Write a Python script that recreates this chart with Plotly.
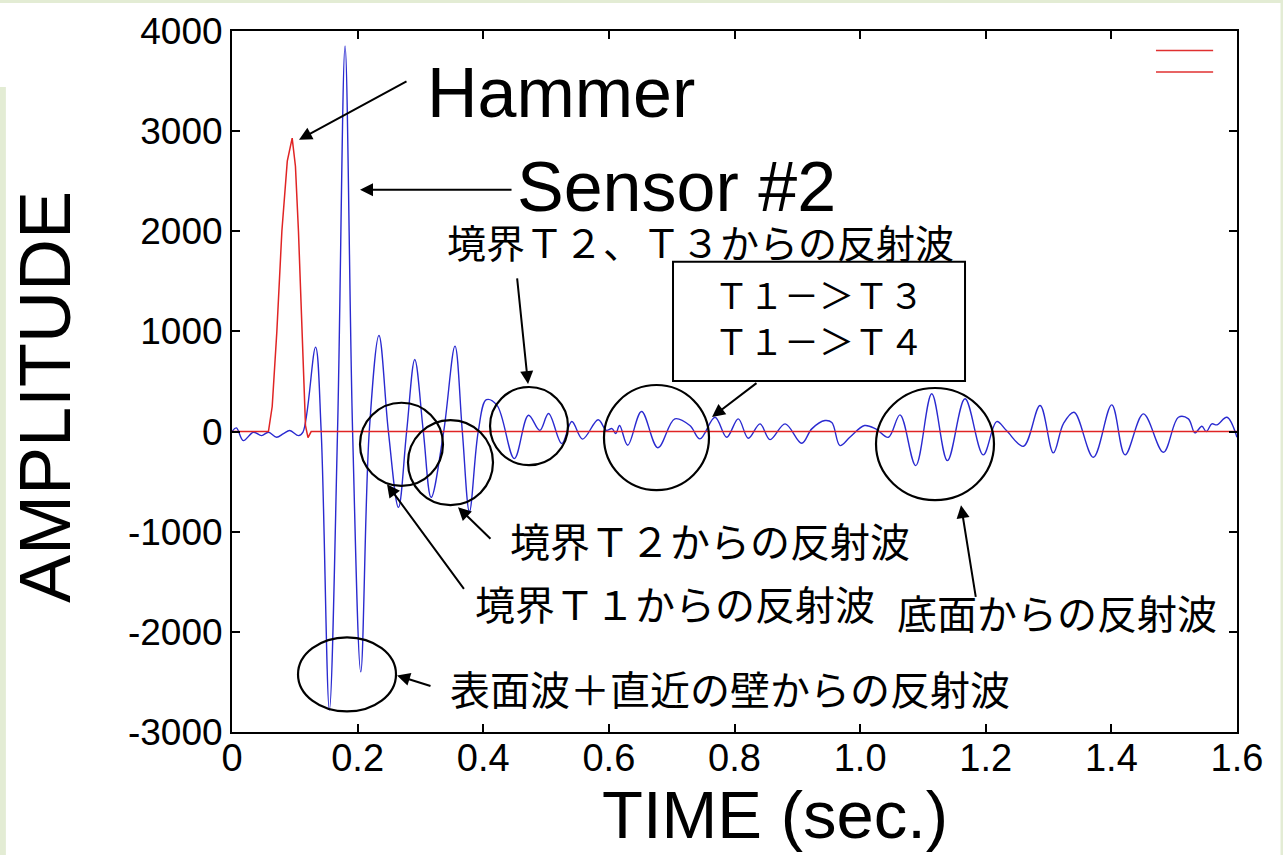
import plotly.graph_objects as go

# ---- data -------------------------------------------------------------
# Hammer impulse (red)
hammer_time = [0.0, 0.05, 0.058, 0.064, 0.0714, 0.0794, 0.088, 0.0958, 0.101,
               0.1058, 0.111, 0.117, 0.121, 0.126, 0.2, 0.5, 1.0, 1.6]
hammer_amp = [0, 0, 0, 250, 1000, 2000, 2700, 2930, 2650,
              2000, 1000, 60, -60, 0, 0, 0, 0, 0]

# Sensor #2 response (blue)
sensor_time = [
    0.000, 0.007, 0.018, 0.034, 0.047, 0.058, 0.071, 0.082, 0.092, 0.106, 0.113,
    0.133, 0.142, 0.155, 0.168, 0.180, 0.192, 0.205, 0.2185, 0.234, 0.249,
    0.265, 0.278, 0.291, 0.3046, 0.317, 0.337, 0.355, 0.3667, 0.378, 0.392,
    0.405, 0.422, 0.4495, 0.472, 0.490, 0.504, 0.525, 0.541, 0.558, 0.583,
    0.596, 0.605, 0.611, 0.617, 0.630, 0.652, 0.678, 0.705, 0.729, 0.745,
    0.769, 0.7875, 0.806, 0.822, 0.8406, 0.8566, 0.8806, 0.907, 0.923, 0.944,
    0.955, 0.968, 0.984, 1.007, 1.025, 1.045, 1.0635, 1.0885, 1.114, 1.139,
    1.167, 1.196, 1.2175, 1.233, 1.26, 1.2865, 1.3076, 1.3235, 1.3406, 1.3713,
    1.4006, 1.4218, 1.451, 1.4828, 1.5067, 1.5226, 1.533, 1.544, 1.551, 1.56,
    1.568, 1.584, 1.6,
]
sensor_amp = [
    0, 37, -90, -7, -40, -7, -57, -20, 10, -40, -5,
    843, 0, -2780, 0, 3850, 0, -2400, 0, 960, 0,
    -757, 0, 720, 0, -657, 0, 853, 0, -800, 0,
    318, 262, -270, 163, 12, 180, -120, 100, -75, 118,
    12, 30, -20, 60, -137, 200, -162, 127, 60, -73,
    143, -57, 127, -67, 77, -80, 77, -117, 27, 110,
    90, -140, -55, 60, 27, -57, 167, -340, 377, -290,
    327, -233, 100, 10, -147, 260, -213, 77, 193, -257,
    267, -233, 177, -207, 143, 127, -13, 53, 0, 77,
    67, 143, -57,
]

x_ticks = [0, 0.2, 0.4, 0.6, 0.8, 1.0, 1.2, 1.4, 1.6]
x_tick_labels = ["0", "0.2", "0.4", "0.6", "0.8", "1.0", "1.2", "1.4", "1.6"]
y_ticks = [-3000, -2000, -1000, 0, 1000, 2000, 3000, 4000]
y_tick_labels = ["-3000", "-2000", "-1000", "0", "1000", "2000", "3000", "4000"]

LATIN = "Liberation Sans, Arial, Helvetica, sans-serif"
CJK = "Noto Sans CJK JP, Noto Sans CJK SC, sans-serif"
GREEN = "#e3ecd4"

fig = go.Figure()
fig.add_trace(go.Scatter(x=sensor_time, y=sensor_amp, mode="lines",
                         line=dict(color="#2a2ad0", width=1.4, shape="spline", smoothing=1.0),
                         name="Sensor #2", showlegend=False))
fig.add_trace(go.Scatter(x=hammer_time, y=hammer_amp, mode="lines",
                         line=dict(color="#e02424", width=1.5),
                         name="Hammer", showlegend=False))

axis_common = dict(showline=True, linecolor="black", linewidth=2, mirror="ticks",
                   ticks="inside", ticklen=8, tickwidth=2, tickcolor="black",
                   showgrid=False, zeroline=False)

fig.update_xaxes(range=[0, 1.6], tickvals=x_ticks, ticktext=x_tick_labels,
                 tickfont=dict(family=LATIN, size=38, color="black"),
                 ticklabelstandoff=-9, **axis_common)
fig.update_yaxes(range=[-3000, 4000], tickvals=y_ticks, ticktext=y_tick_labels,
                 tickfont=dict(family=LATIN, size=37, color="black"),
                 **axis_common)

shapes = []
# slide background strips
for x0, x1, y0, y1 in [(-0.25, 1.1, 1.04, 1.06), (-0.231, -0.225, -0.2, 0.92), (1.0433, 1.06, -0.2, 1.06)]:
    shapes.append(dict(type="rect", xref="paper", yref="paper", x0=x0, x1=x1, y0=y0, y1=y1,
                       fillcolor=GREEN, line=dict(width=0), layer="below"))

# circled regions of interest
circles = [
    (0.2038, 0.3359, -542, 288),
    (0.2802, 0.4155, -735, 115),
    (0.4108, 0.5349, -335, 445),
    (0.5922, 0.7594, -585, 465),
    (1.0253, 1.2131, -685, 435),
    (0.1051, 0.2611, -2795, -2055),
]
for x0, x1, y0, y1 in circles:
    shapes.append(dict(type="circle", xref="x", yref="y", x0=x0, x1=x1, y0=y0, y1=y1,
                       line=dict(color="black", width=2.2)))

# label box
shapes.append(dict(type="rect", xref="x", yref="y", x0=0.7021, x1=1.167, y0=505, y1=1695,
                   fillcolor="white", line=dict(color="black", width=2)))

# legend key lines
for yv in (3805, 3590):
    shapes.append(dict(type="line", xref="x", yref="y", x0=1.471, x1=1.562, y0=yv, y1=yv,
                       line=dict(color="#e03030", width=1.5)))

annotations = []
# arrows: (tip_x, tip_y, tail_x, tail_y)
arrows = [
    (0.1067, 2915, 0.2802, 3505),
    (0.2038, 2415, 0.4474, 2415),
    (0.4713, 475, 0.4537, 1545),
    (0.7642, 145, 0.8374, 495),
    (0.3598, -755, 0.4139, -1085),
    (0.2468, -525, 0.3710, -1585),
    (1.1606, -735, 1.1845, -1665),
    (0.2627, -2435, 0.3184, -2545),
]
for tx, ty, ax_, ay_ in arrows:
    annotations.append(dict(x=tx, y=ty, ax=ax_, ay=ay_, xref="x", yref="y", axref="x", ayref="y",
                            text="", showarrow=True, arrowhead=2, arrowsize=1.3, arrowwidth=2,
                            arrowcolor="black"))

# large labels
annotations.append(dict(x=0.3073, y=3385, xref="x", yref="y", xanchor="left", yanchor="middle",
                        text="Hammer", showarrow=False, font=dict(family=LATIN, size=70, color="black")))
annotations.append(dict(x=0.4506, y=2445, xref="x", yref="y", xanchor="left", yanchor="middle",
                        text="Sensor #2", showarrow=False, font=dict(family=LATIN, size=70, color="black")))

# Japanese labels: (x, y, text, anchor, size)
jp_labels = [
    (0.3391, 1905, "境界Ｔ２、Ｔ３からの反射波", "left", 39),
    (0.761, -1085, "境界Ｔ２からの反射波", "center", 40),
    (0.7053, -1715, "境界Ｔ１からの反射波", "center", 40),
    (1.3135, -1805, "底面からの反射波", "center", 40),
    (0.7928, -2565, "表面波＋直近の壁からの反射波", "center", 40),
]
for x, y, txt, anc, sz in jp_labels:
    annotations.append(dict(x=x, y=y, xref="x", yref="y", xanchor=anc, yanchor="middle",
                            text=txt, showarrow=False, font=dict(family=CJK, size=sz, color="black")))

# boxed path labels
annotations.append(dict(x=0.9346, y=1150, xref="x", yref="y", xanchor="center", yanchor="middle",
                        text="Ｔ１－＞Ｔ３<br>Ｔ１－＞Ｔ４", showarrow=False, align="center",
                        font=dict(family=CJK, size=35, color="black")))

# axis titles
annotations.append(dict(x=-0.186, y=0.478, xref="paper", yref="paper", text="AMPLITUDE",
                        textangle=-90, showarrow=False, xanchor="center", yanchor="middle",
                        font=dict(family=LATIN, size=72, color="black")))
annotations.append(dict(x=0.5403, y=-0.1184, xref="paper", yref="paper", text="TIME (sec.)",
                        showarrow=False, xanchor="center", yanchor="middle",
                        font=dict(family=LATIN, size=67, color="black")))

fig.update_layout(width=1283, height=855, autosize=False,
                  margin=dict(l=232, r=46, t=31, b=123),
                  paper_bgcolor="white", plot_bgcolor="white",
                  shapes=shapes, annotations=annotations, showlegend=False)

fig.write_html("out.html")
